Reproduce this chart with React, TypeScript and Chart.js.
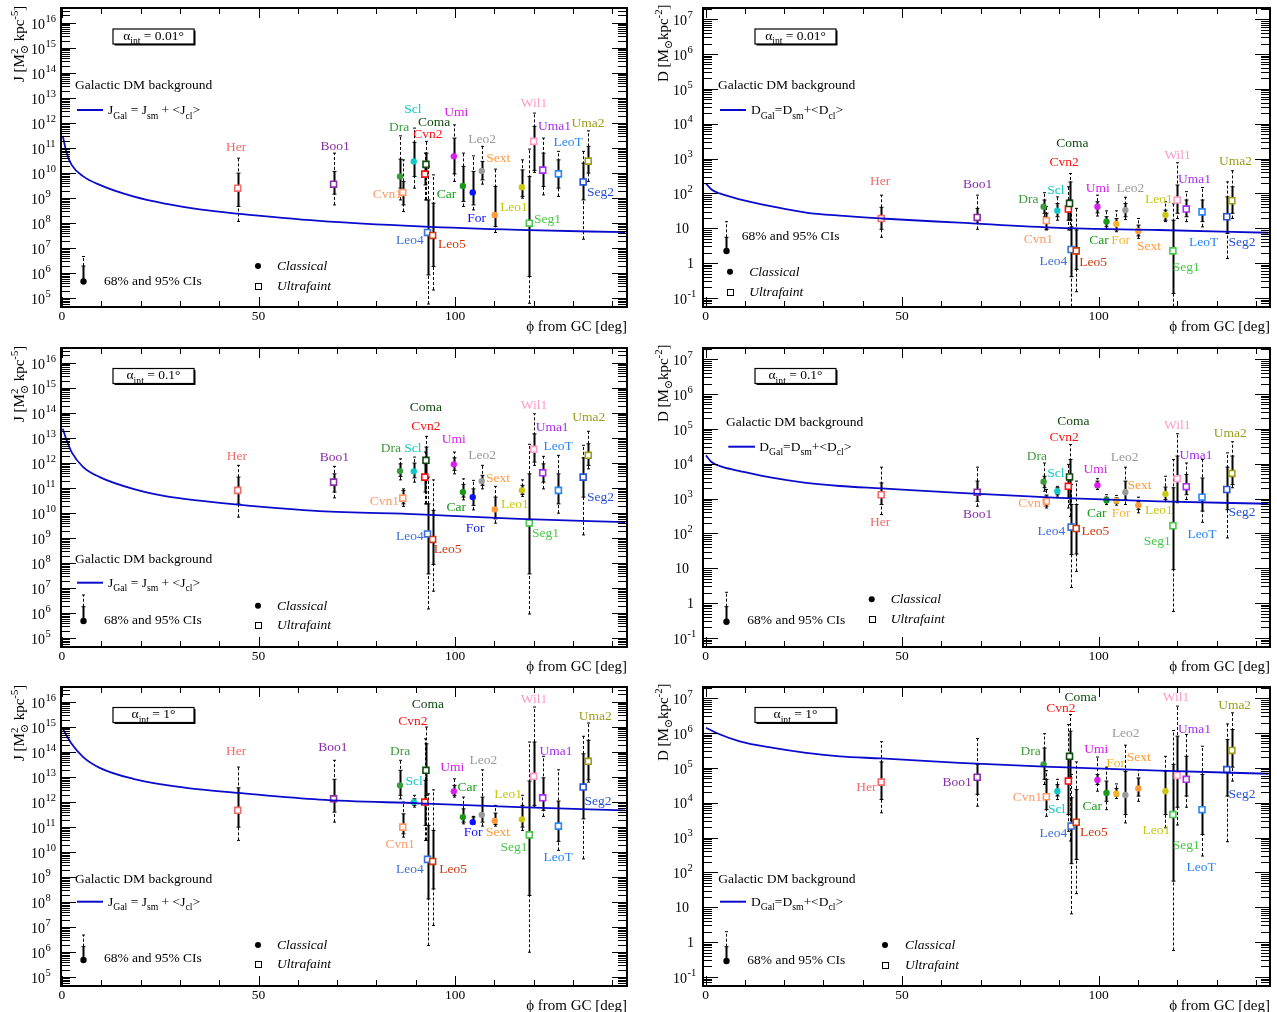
import React, { useEffect, useRef } from 'react';
import { Chart, registerables } from 'chart.js';

Chart.register(...registerables);

if (typeof document !== 'undefined') {
  document.body.style.margin = '0';
  document.body.style.background = '#ffffff';
}

const SERIF = '"Liberation Serif", "DejaVu Serif", serif';

// ---------------- data (values stored as log10) ----------------
const galaxyNames = ['Her', 'Boo1', 'Dra', 'Cvn1', 'Scl', 'Cvn2', 'Coma', 'Leo4', 'Leo5', 'Umi', 'Car', 'For', 'Leo2', 'Sext', 'Leo1', 'Seg1', 'Wil1', 'Uma1', 'LeoT', 'Seg2', 'Uma2'];
const galaxyPhi = [44.7, 69.1, 86.0, 86.7, 89.5, 92.3, 92.6, 93.0, 94.3, 99.7, 102.0, 104.5, 106.8, 110.1, 117.0, 118.9, 120.0, 122.3, 126.3, 132.6, 133.9];
const classicalNames = ['Dra', 'Scl', 'Umi', 'Car', 'For', 'Leo2', 'Sext', 'Leo1'];

const xTickLabels = [0, 50, 100];
const yTicksJ = [5, 6, 7, 8, 9, 10, 11, 12, 13, 14, 15, 16];
const yTicksD = [-1, 0, 1, 2, 3, 4, 5, 6, 7];
const yRangeJ = [4.65, 16.6];
const yRangeD = [-1.26, 7.32];

// J, alpha_int = 0.01 deg
const jC001 = [9.40, 9.56, 9.87, 9.23, 10.47, 9.96, 10.35, 7.63, 7.51, 10.67, 9.49, 9.23, 10.09, 8.33, 9.44, 8.0, 11.27, 10.12, 9.97, 9.65, 10.48];
const j68_001 = [[8.67, 10.0], [9.16, 10.07], [9.4, 10.56], [8.73, 9.67], [9.87, 11.23], [9.53, 10.4], [9.87, 10.8], [5.93, 8.93], [6.27, 8.8], [9.97, 11.4], [8.87, 10.27], [8.73, 10.07], [9.73, 10.47], [7.87, 9.47], [9.07, 10.13], [5.87, 9.87], [10.11, 11.87], [9.47, 10.8], [9.4, 10.53], [8.93, 10.4], [10.0, 11.07]];
const j95_001 = [[8.07, 10.6], [8.73, 10.8], [8.93, 11.49], [8.47, 10.53], [9.4, 11.8], [8.93, 10.8], [8.93, 11.27], [4.77, 10.27], [5.33, 9.93], [9.67, 11.93], [8.67, 10.8], [8.53, 10.69], [9.56, 11.07], [7.63, 10.16], [9.0, 10.53], [4.8, 10.96], [10.03, 12.4], [9.13, 11.4], [9.07, 10.87], [7.36, 10.87], [9.67, 11.69]];
const jLab001 = [[44.3, 11.04], [69.5, 11.07], [85.8, 11.83], [82.8, 9.16], [89.3, 12.53], [93.1, 11.53], [94.7, 12.03], [88.5, 7.31], [99.2, 7.13], [100.3, 12.43], [97.8, 9.13], [105.5, 8.2], [106.9, 11.33], [111.0, 10.57], [115.0, 8.63], [123.5, 8.13], [120.1, 12.77], [125.3, 11.87], [128.8, 11.23], [137.0, 9.23], [133.8, 12.0]];
const jCurvePhi001 = [0.2, 1.2, 2.45, 5.4, 9.6, 18.1, 26.6, 35.0, 44.7, 65.5, 90.9, 116.2, 143.3];
const jCurve001 = [11.49, 10.8, 10.33, 9.87, 9.53, 9.07, 8.77, 8.55, 8.38, 8.09, 7.87, 7.73, 7.64];

// J, alpha_int = 0.1 deg
const jC01 = [10.91, 11.24, 11.68, 10.6, 11.67, 11.44, 12.11, 9.17, 8.95, 11.95, 10.84, 10.64, 11.28, 10.15, 10.91, 9.61, 12.55, 11.61, 10.91, 11.44, 12.31];
const j68_01 = [[10.37, 11.44], [10.84, 11.57], [11.47, 11.97], [10.37, 10.91], [11.41, 12.0], [10.84, 11.97], [11.44, 12.64], [7.57, 10.37], [7.95, 10.11], [11.71, 12.21], [10.64, 11.15], [10.31, 10.97], [11.11, 11.51], [9.77, 10.64], [10.75, 11.11], [7.57, 11.57], [12.04, 13.17], [11.24, 11.97], [10.37, 11.57], [10.64, 12.21], [11.91, 12.77]];
const j95_01 = [[9.84, 11.91], [10.61, 11.87], [11.33, 12.17], [10.27, 10.97], [11.24, 12.24], [10.37, 12.44], [10.37, 13.07], [6.17, 11.44], [6.88, 11.33], [11.57, 12.44], [10.53, 11.37], [10.13, 11.31], [10.97, 11.91], [9.6, 11.07], [10.67, 11.33], [5.97, 12.75], [11.91, 13.97], [10.97, 12.27], [10.0, 12.31], [9.13, 12.71], [11.77, 13.27]];
const jLab01 = [[44.5, 12.27], [69.3, 12.24], [83.7, 12.57], [82.0, 10.48], [89.3, 12.57], [92.6, 13.47], [92.6, 14.24], [88.5, 9.08], [98.1, 8.53], [99.7, 12.93], [100.3, 10.21], [105.1, 9.4], [106.9, 12.31], [110.9, 11.4], [115.2, 10.35], [123.0, 9.17], [120.1, 14.31], [124.7, 13.41], [126.2, 12.67], [137.0, 10.64], [134.0, 13.81]];
const jCurvePhi01 = [0.2, 1.2, 2.45, 5.4, 9.6, 18.1, 26.6, 35.0, 44.7, 65.5, 90.9, 116.2, 143.3];
const jCurve01 = [13.37, 12.91, 12.44, 11.84, 11.44, 10.97, 10.67, 10.5, 10.34, 10.08, 9.95, 9.77, 9.64];

// J, alpha_int = 1 deg
const jC1 = [11.67, 12.13, 12.67, 11.0, 12.0, 12.0, 13.27, 9.71, 9.63, 12.43, 11.4, 11.2, 11.49, 11.25, 11.31, 10.69, 13.03, 12.17, 11.04, 12.6, 13.63];
const j68_1 = [[11.0, 12.57], [11.6, 12.91], [12.27, 13.27], [10.73, 11.53], [11.87, 12.13], [11.07, 12.87], [12.27, 14.33], [8.13, 11.07], [8.53, 10.87], [12.27, 12.67], [11.2, 11.73], [11.13, 11.4], [11.2, 12.2], [11.11, 11.56], [11.0, 11.87], [8.27, 12.84], [11.87, 14.4], [11.67, 12.97], [10.43, 12.04], [11.33, 13.93], [12.89, 14.47]];
const j95_1 = [[10.47, 13.4], [11.2, 13.67], [12.13, 13.67], [10.6, 12.0], [11.8, 12.27], [10.47, 14.53], [10.47, 15.0], [6.27, 12.33], [7.07, 12.49], [12.2, 12.93], [11.13, 12.2], [11.11, 11.43], [11.04, 13.29], [11.04, 11.87], [10.87, 12.27], [6.0, 14.4], [11.8, 15.8], [11.43, 13.83], [10.07, 13.29], [9.73, 14.63], [12.8, 15.16]];
const jLab1 = [[44.3, 14.04], [68.9, 14.17], [86.0, 14.04], [86.0, 10.29], [89.6, 12.84], [89.3, 15.24], [93.1, 15.89], [88.5, 9.29], [99.5, 9.29], [99.3, 13.37], [103.1, 12.57], [104.6, 10.77], [107.2, 13.67], [110.9, 10.77], [113.5, 12.31], [115.0, 10.2], [120.1, 16.1], [125.7, 14.04], [126.2, 9.77], [136.4, 12.04], [135.7, 15.43]];
const jCurvePhi1 = [0.2, 2.45, 5.4, 9.6, 18.1, 26.6, 35.0, 44.7, 65.5, 90.9, 116.2, 143.3];
const jCurve1 = [14.93, 14.33, 13.8, 13.37, 12.93, 12.68, 12.51, 12.37, 12.1, 11.95, 11.8, 11.67];

// D, alpha_int = 0.01 deg
const dC001 = [1.28, 1.31, 1.62, 1.22, 1.5, 1.55, 1.71, 0.39, 0.35, 1.62, 1.19, 1.12, 1.52, 0.92, 1.38, 0.35, 1.81, 1.55, 1.47, 1.33, 1.79];
const d68_001 = [[0.97, 1.6], [1.14, 1.57], [1.43, 1.81], [0.97, 1.43], [1.33, 1.71], [1.23, 1.81], [1.23, 2.33], [-0.39, 1.04], [-0.18, 0.95], [1.44, 1.76], [1.04, 1.33], [0.95, 1.28], [1.33, 1.71], [0.78, 1.09], [1.23, 1.52], [-0.87, 1.23], [1.43, 2.24], [1.33, 1.81], [1.19, 1.81], [0.85, 1.9], [1.43, 2.19]];
const d95_001 = [[0.74, 1.95], [0.97, 1.95], [1.33, 2.02], [0.95, 1.62], [1.23, 1.9], [0.95, 2.19], [0.95, 2.57], [-1.25, 1.81], [-0.82, 1.57], [1.35, 1.95], [0.97, 1.5], [0.9, 1.5], [1.25, 1.89], [0.71, 1.28], [1.19, 1.76], [-1.25, 1.7], [1.28, 2.88], [1.19, 2.05], [1.04, 2.17], [0.13, 2.33], [1.28, 2.65]];
const dLab001 = [[44.4, 2.33], [69.2, 2.27], [82.1, 1.84], [84.7, 0.68], [89.1, 2.08], [91.2, 2.89], [93.3, 3.42], [88.5, 0.04], [98.6, 0.02], [99.8, 2.14], [100.1, 0.64], [105.6, 0.64], [108.1, 2.14], [112.8, 0.47], [115.3, 1.84], [122.3, -0.12], [120.1, 3.1], [124.4, 2.41], [126.7, 0.59], [136.5, 0.59], [134.8, 2.91]];
const dCurvePhi001 = [0.1, 1.5, 3.6, 8.7, 17.2, 25.6, 34.1, 44.7, 64.5, 89.9, 115.3, 143.2];
const dCurve001 = [2.29, 2.11, 2.0, 1.83, 1.62, 1.45, 1.36, 1.28, 1.16, 1.01, 0.95, 0.87];

// D, alpha_int = 0.1 deg
const dC01 = [3.11, 3.18, 3.48, 2.92, 3.21, 3.35, 3.62, 2.18, 2.14, 3.38, 2.95, 2.94, 3.18, 2.81, 3.13, 2.22, 3.57, 3.34, 3.04, 3.26, 3.72];
const d68_01 = [[2.83, 3.45], [2.92, 3.5], [3.31, 3.64], [2.78, 3.1], [3.11, 3.31], [3.02, 3.69], [2.83, 4.12], [1.39, 2.83], [1.41, 2.83], [3.31, 3.5], [2.88, 3.04], [2.86, 3.02], [2.97, 3.5], [2.68, 2.92], [2.97, 3.33], [0.96, 3.31], [2.92, 4.22], [3.11, 3.69], [2.64, 3.59], [2.68, 3.9], [3.4, 4.22]];
const d95_01 = [[2.54, 3.9], [2.78, 3.9], [3.21, 4.02], [2.73, 3.26], [3.07, 3.35], [2.73, 3.98], [2.49, 4.55], [0.45, 3.4], [0.91, 3.5], [3.26, 3.57], [2.83, 3.11], [2.81, 3.09], [2.83, 3.9], [2.59, 3.04], [2.92, 3.64], [-0.24, 4.12], [2.88, 4.86], [2.97, 4.02], [2.32, 4.12], [1.87, 4.31], [3.31, 4.63]];
const dLab01 = [[44.4, 2.3], [69.2, 2.54], [84.3, 4.2], [83.3, 2.86], [89.1, 3.72], [91.2, 4.74], [93.6, 5.2], [88.0, 2.06], [99.2, 2.06], [99.2, 3.83], [99.5, 2.56], [105.7, 2.56], [106.6, 4.17], [110.4, 3.37], [115.3, 2.66], [114.9, 1.77], [120.0, 5.1], [124.8, 4.24], [126.3, 1.98], [136.5, 2.61], [133.5, 4.86]];
const dCurvePhi01 = [0.1, 1.5, 4.5, 8.7, 17.2, 25.6, 34.1, 44.7, 64.5, 89.9, 115.3, 143.2];
const dCurve01 = [4.24, 4.05, 3.9, 3.79, 3.59, 3.45, 3.36, 3.29, 3.16, 3.02, 2.92, 2.85];

// D, alpha_int = 1 deg
const dC1 = [4.59, 4.73, 5.1, 4.17, 4.33, 4.62, 5.33, 3.33, 3.44, 4.65, 4.28, 4.26, 4.22, 4.41, 4.33, 3.66, 4.78, 4.67, 3.8, 4.95, 5.5];
const d68_1 = [[4.09, 5.17], [4.24, 5.1], [4.67, 5.57], [3.8, 4.67], [4.19, 4.52], [3.66, 5.33], [4.71, 6.05], [2.25, 4.14], [2.37, 4.38], [4.52, 4.81], [4.04, 4.62], [4.19, 4.41], [3.66, 4.9], [4.19, 4.71], [3.66, 4.9], [1.75, 5.1], [3.87, 5.91], [4.19, 5.33], [3.09, 4.81], [4.19, 5.81], [5.02, 6.1]];
const d95_1 = [[3.71, 5.75], [3.9, 5.84], [4.52, 5.98], [3.61, 4.92], [4.09, 4.67], [3.18, 6.24], [2.9, 6.53], [0.81, 4.81], [1.39, 5.17], [4.33, 5.31], [3.8, 5.02], [4.12, 4.54], [3.42, 5.65], [4.04, 4.95], [3.28, 5.33], [-0.24, 6.07], [3.36, 6.77], [3.87, 5.96], [2.47, 5.62], [2.88, 6.26], [4.62, 6.58]];
const dLab1 = [[40.9, 4.45], [64.0, 4.59], [82.7, 5.46], [81.9, 4.16], [89.3, 3.82], [90.4, 6.7], [95.4, 7.03], [88.5, 3.12], [98.8, 3.16], [99.4, 5.54], [98.4, 3.88], [104.3, 5.14], [106.9, 5.98], [110.2, 5.29], [114.7, 3.2], [122.3, 2.77], [119.7, 7.01], [124.4, 6.1], [126.1, 2.13], [136.5, 4.25], [134.6, 6.8]];
const dCurvePhi1 = [0.1, 2.8, 8.7, 17.2, 25.6, 34.1, 44.7, 64.5, 89.9, 115.3, 143.2];
const dCurve1 = [6.15, 6.0, 5.76, 5.57, 5.43, 5.33, 5.27, 5.14, 5.02, 4.92, 4.83];

// ---------------- styles ----------------
const galaxyColors: Record<string, string> = {
  Her: '#f26b6b', Boo1: '#8a2fa8', Dra: '#3c9c3c', Cvn1: '#ff9966', Scl: '#10c8c8', Cvn2: '#ff1010',
  Coma: '#104a10', Leo4: '#3f70d8', Leo5: '#cc3a10', Umi: '#d81ef0', Car: '#189a18', For: '#1010ff',
  Leo2: '#9a9a9a', Sext: '#ff9a3a', Leo1: '#c8c810', Seg1: '#48c848', Wil1: '#ff9ac8', Uma1: '#a82ef0',
  LeoT: '#2a86f5', Seg2: '#2650d8', Uma2: '#9c9c1c',
};
const forColorD = '#f5b52a';
const curveColor = '#0a0acc';

type Seg = { t: string; k?: 'sub' | 'sup'; top?: string };

const COLS = [
  { left: 0, width: 640, padL: 61, padR: 13, xMin: -0.25, xMax: 143.75 },
  { left: 640, width: 637, padL: 63, padR: 7, xMin: -0.65, xMax: 143.6 },
];
const ROWS = [
  { top: 0, height: 340 },
  { top: 340, height: 339 },
  { top: 679, height: 333 },
];

interface Deco {
  box: number[]; gal: number[]; line: number[]; legX: number; ci: number[]; cls: number[];
}
interface PanelSpec {
  id: string; col: number; row: number; kind: 'J' | 'D'; alpha: string;
  central: number[]; ci68: number[][]; ci95: number[][]; labels: number[][];
  curvePhi: number[]; curve: number[]; deco: Deco;
}

const panels: PanelSpec[] = [
  { id: 'TL', col: 0, row: 0, kind: 'J', alpha: ' = 0.01°', central: jC001, ci68: j68_001, ci95: j95_001, labels: jLab001, curvePhi: jCurvePhi001, curve: jCurve001,
    deco: { box: [113, 29], gal: [75, 85], line: [77, 103, 110], legX: 108, ci: [83, 281.5, 266, 256.5, 104, 281], cls: [258, 266, 286, 277] } },
  { id: 'TR', col: 1, row: 0, kind: 'D', alpha: ' = 0.01°', central: dC001, ci68: d68_001, ci95: d95_001, labels: dLab001, curvePhi: dCurvePhi001, curve: dCurve001,
    deco: { box: [115, 29], gal: [78, 85], line: [80, 106, 110], legX: 111, ci: [86, 251, 237.3, 221.7, 101.7, 236], cls: [90, 271.7, 292.3, 109.3] } },
  { id: 'ML', col: 0, row: 1, kind: 'J', alpha: ' = 0.1°', central: jC01, ci68: j68_01, ci95: j95_01, labels: jLab01, curvePhi: jCurvePhi01, curve: jCurve01,
    deco: { box: [113, 28.5], gal: [75, 219], line: [77, 103, 242.7], legX: 108, ci: [83, 281, 266.7, 255, 104, 280], cls: [258, 265.7, 285, 277] } },
  { id: 'MR', col: 1, row: 1, kind: 'D', alpha: ' = 0.1°', central: dC01, ci68: d68_01, ci95: d95_01, labels: dLab01, curvePhi: dCurvePhi01, curve: dCurve01,
    deco: { box: [115, 28.5], gal: [86, 81.7], line: [88.3, 115, 106.7], legX: 119.3, ci: [86, 281.7, 266.7, 252.3, 107.3, 280], cls: [231.7, 259.3, 279.3, 250.7] } },
  { id: 'BL', col: 0, row: 2, kind: 'J', alpha: ' = 1°', central: jC1, ci68: j68_1, ci95: j95_1, labels: jLab1, curvePhi: jCurvePhi1, curve: jCurve1,
    deco: { box: [113, 28.5], gal: [75, 199.3], line: [77, 103, 222.7], legX: 108, ci: [83, 281, 267.7, 256, 104, 279], cls: [258, 266, 285.3, 277] } },
  { id: 'BR', col: 1, row: 2, kind: 'D', alpha: ' = 1°', central: dC1, ci68: d68_1, ci95: d95_1, labels: dLab1, curvePhi: dCurvePhi1, curve: dCurve1,
    deco: { box: [115, 28.5], gal: [78.3, 199.3], line: [80, 106, 222.7], legX: 111, ci: [86, 282, 267.7, 252.7, 107.3, 280.3], cls: [245, 266, 286, 265] } },
];

// ---------------- drawing helpers ----------------
function font(size: number, style = '') {
  return `${style ? style + ' ' : ''}${size}px ${SERIF}`;
}

function measureRich(ctx: CanvasRenderingContext2D, segs: Seg[], size: number) {
  let w = 0;
  for (const s of segs) {
    if (!s.k) {
      ctx.font = font(size);
      w += ctx.measureText(s.t).width;
    } else {
      ctx.font = font(size * 0.72);
      let ww = ctx.measureText(s.t).width;
      if (s.top) ww = Math.max(ww, ctx.measureText(s.top).width);
      w += ww;
    }
  }
  return w;
}

// y is the vertical middle of the main text
function drawRich(ctx: CanvasRenderingContext2D, segs: Seg[], x: number, y: number, size: number, align: string) {
  const w = measureRich(ctx, segs, size);
  let cx = align === 'center' ? x - w / 2 : align === 'right' ? x - w : x;
  const base = y + size * 0.33;
  ctx.textAlign = 'left';
  ctx.textBaseline = 'alphabetic';
  for (const s of segs) {
    if (!s.k) {
      ctx.font = font(size);
      ctx.fillText(s.t, cx, base);
      cx += ctx.measureText(s.t).width;
    } else {
      ctx.font = font(size * 0.72);
      let ww = ctx.measureText(s.t).width;
      if (s.k === 'sub') ctx.fillText(s.t, cx, base + size * 0.3);
      else ctx.fillText(s.t, cx, base - size * 0.42);
      if (s.top) {
        ctx.fillText(s.top, cx, base - size * 0.42);
        ww = Math.max(ww, ctx.measureText(s.top).width);
      }
      cx += ww;
    }
  }
}

function seg(ctx: CanvasRenderingContext2D, x1: number, y1: number, x2: number, y2: number) {
  ctx.beginPath();
  ctx.moveTo(x1, y1);
  ctx.lineTo(x2, y2);
  ctx.stroke();
}

function colorFor(name: string, kind: string) {
  if (name === 'For' && kind === 'D') return forColorD;
  return galaxyColors[name];
}

function makePlugin(spec: PanelSpec) {
  return {
    id: 'deco' + spec.id,
    beforeDatasetsDraw(chart: any) {
      const ctx: CanvasRenderingContext2D = chart.ctx;
      const ca = chart.chartArea;
      const xs = chart.scales.x;
      const ys = chart.scales.y;
      ctx.save();
      ctx.beginPath();
      ctx.rect(ca.left, ca.top, ca.right - ca.left, ca.bottom - ca.top);
      ctx.clip();
      ctx.strokeStyle = '#000';
      spec.ci95.forEach((p, i) => {
        const x = Math.round(xs.getPixelForValue(galaxyPhi[i])) + 0.5;
        const yl = ys.getPixelForValue(Math.pow(10, p[0]));
        const yh = ys.getPixelForValue(Math.pow(10, p[1]));
        ctx.lineWidth = 1;
        ctx.setLineDash([3, 2]);
        seg(ctx, x, yl, x, yh);
        ctx.setLineDash([]);
        seg(ctx, x - 1.5, yl, x + 1.5, yl);
        seg(ctx, x - 1.5, yh, x + 1.5, yh);
      });
      spec.ci68.forEach((p, i) => {
        const x = Math.round(xs.getPixelForValue(galaxyPhi[i])) + 0.5;
        const yl = ys.getPixelForValue(Math.pow(10, p[0]));
        const yh = ys.getPixelForValue(Math.pow(10, p[1]));
        ctx.lineWidth = 2;
        seg(ctx, x, yl, x, yh);
        ctx.lineWidth = 1;
        seg(ctx, x - 2, yl, x + 2, yl);
        seg(ctx, x - 2, yh, x + 2, yh);
      });
      ctx.restore();
    },
    afterDatasetsDraw(chart: any) {
      const ctx: CanvasRenderingContext2D = chart.ctx;
      const ca = chart.chartArea;
      const xs = chart.scales.x;
      const ys = chart.scales.y;
      const isJ = spec.kind === 'J';
      const range = isJ ? yRangeJ : yRangeD;
      const d = spec.deco;
      ctx.save();

      // galaxy labels
      spec.labels.forEach((p, i) => {
        const name = galaxyNames[i];
        ctx.fillStyle = colorFor(name, spec.kind);
        ctx.font = font(13.5);
        ctx.textAlign = 'center';
        ctx.textBaseline = 'middle';
        ctx.fillText(name, xs.getPixelForValue(p[0]), ys.getPixelForValue(Math.pow(10, p[1])));
      });

      // ticks
      ctx.strokeStyle = '#000';
      ctx.lineWidth = 1;
      const majorLen = 15;
      const minorLen = 9;
      for (let e = Math.floor(range[0]); e <= Math.ceil(range[1]); e++) {
        for (let m = 1; m <= 9; m++) {
          const lv = e + Math.log10(m);
          if (lv <= range[0] || lv >= range[1]) continue;
          const py = Math.round(ys.getPixelForValue(m * Math.pow(10, e))) + 0.5;
          const len = m === 1 ? majorLen : minorLen;
          seg(ctx, ca.left, py, ca.left + len, py);
          seg(ctx, ca.right, py, ca.right - len, py);
        }
      }
      for (let v = 0; v <= 140; v += 10) {
        const px = Math.round(xs.getPixelForValue(v)) + 0.5;
        const len = v % 50 === 0 ? 10 : 6;
        seg(ctx, px, ca.bottom, px, ca.bottom - len);
        seg(ctx, px, ca.top, px, ca.top + len);
      }

      // frame
      ctx.lineWidth = 2;
      ctx.strokeRect(ca.left, ca.top, ca.right - ca.left, ca.bottom - ca.top);

      // y tick labels
      ctx.fillStyle = '#000';
      const ticks = isJ ? yTicksJ : yTicksD;
      ticks.forEach((e) => {
        const py = ys.getPixelForValue(Math.pow(10, e));
        ctx.textBaseline = 'middle';
        if (!isJ && e === 0) {
          ctx.font = font(14);
          ctx.textAlign = 'right';
          ctx.fillText('1', ca.left - 9, py + 1);
        } else if (!isJ && e === 1) {
          ctx.font = font(14);
          ctx.textAlign = 'right';
          ctx.fillText('10', ca.left - 14, py + 1);
        } else {
          ctx.font = font(14);
          ctx.textAlign = 'right';
          ctx.fillText('10', ca.left - 16, py + 2);
          ctx.font = font(10.5);
          ctx.textAlign = 'left';
          ctx.fillText(String(e), ca.left - 15.5, py - 4);
        }
      });

      // x tick labels
      xTickLabels.forEach((v) => {
        ctx.font = font(13.5);
        ctx.textAlign = 'center';
        ctx.textBaseline = 'middle';
        ctx.fillText(String(v), xs.getPixelForValue(v), ca.bottom + 9.5);
      });

      // x title
      drawRich(ctx, [{ t: 'ϕ from GC [deg]' }], ca.right, ca.bottom + 19, 15, 'right');

      // y title (rotated)
      ctx.save();
      ctx.translate(isJ ? 24 : 28, ca.top + 74);
      ctx.rotate(-Math.PI / 2);
      const ySegs: Seg[] = isJ
        ? [{ t: 'J [M' }, { t: '⊙', k: 'sub', top: '2' }, { t: ' kpc' }, { t: '-5', k: 'sup' }, { t: ']' }]
        : [{ t: 'D [M' }, { t: '⊙', k: 'sub' }, { t: 'kpc' }, { t: '-2', k: 'sup' }, { t: ']' }];
      drawRich(ctx, ySegs, 0, -5, 15, 'left');
      ctx.restore();

      // alpha box
      const bw = 81;
      const bh = 15;
      ctx.fillStyle = '#000';
      ctx.fillRect(d.box[0] + 1.5, d.box[1] + 1.5, bw, bh);
      ctx.fillStyle = '#fff';
      ctx.fillRect(d.box[0], d.box[1], bw, bh);
      ctx.lineWidth = 1.2;
      ctx.strokeStyle = '#000';
      ctx.strokeRect(d.box[0], d.box[1], bw, bh);
      ctx.fillStyle = '#000';
      drawRich(ctx, [{ t: 'α' }, { t: 'int', k: 'sub' }, { t: spec.alpha }], d.box[0] + bw / 2, d.box[1] + bh / 2 - 1, 13.5, 'center');

      // galactic background legend
      drawRich(ctx, [{ t: 'Galactic DM background' }], d.gal[0], d.gal[1], 13.5, 'left');
      ctx.strokeStyle = curveColor;
      ctx.lineWidth = 2;
      seg(ctx, d.line[0], d.line[2], d.line[1], d.line[2]);
      const legSegs: Seg[] = isJ
        ? [{ t: 'J' }, { t: 'Gal', k: 'sub' }, { t: ' = J' }, { t: 'sm', k: 'sub' }, { t: ' + <J' }, { t: 'cl', k: 'sub' }, { t: '>' }]
        : [{ t: 'D' }, { t: 'Gal', k: 'sub' }, { t: '=D' }, { t: 'sm', k: 'sub' }, { t: '+<D' }, { t: 'cl', k: 'sub' }, { t: '>' }];
      drawRich(ctx, legSegs, d.legX, d.line[2], 13.5, 'left');

      // CI legend
      const [cx, yDot, ySolid, yDash, tx, ty] = d.ci;
      ctx.strokeStyle = '#000';
      ctx.lineWidth = 1;
      ctx.setLineDash([3, 2]);
      seg(ctx, cx + 0.5, ySolid, cx + 0.5, yDash);
      ctx.setLineDash([]);
      seg(ctx, cx - 1, yDash, cx + 2, yDash);
      ctx.lineWidth = 2;
      seg(ctx, cx + 0.5, yDot, cx + 0.5, ySolid);
      ctx.lineWidth = 1;
      seg(ctx, cx - 1.5, ySolid, cx + 2.5, ySolid);
      ctx.fillStyle = '#000';
      ctx.beginPath();
      ctx.arc(cx + 0.5, yDot, 3.2, 0, Math.PI * 2);
      ctx.fill();
      drawRich(ctx, [{ t: '68% and 95% CIs' }], tx, ty, 13.5, 'left');

      // classical / ultrafaint legend
      const [lx, ly1, ly2, ltx] = d.cls;
      ctx.beginPath();
      ctx.arc(lx, ly1, 3, 0, Math.PI * 2);
      ctx.fill();
      ctx.lineWidth = 1;
      ctx.strokeRect(Math.round(lx - 3) + 0.5, Math.round(ly2 - 3) + 0.5, 6, 6);
      ctx.font = font(13.5, 'italic');
      ctx.textAlign = 'left';
      ctx.textBaseline = 'middle';
      ctx.fillText('Classical', ltx, ly1 + 0.5);
      ctx.fillText('Ultrafaint', ltx, ly2 + 0.5);

      ctx.restore();
    },
  };
}

function buildConfig(spec: PanelSpec) {
  const colSpec = COLS[spec.col];
  const rowSpec = ROWS[spec.row];
  const range = spec.kind === 'J' ? yRangeJ : yRangeD;
  const curvePts = spec.curvePhi.map((p, i) => ({ x: p, y: Math.pow(10, spec.curve[i]) }));
  const clsIdx = galaxyNames.map((n, i) => i).filter((i) => classicalNames.includes(galaxyNames[i]));
  const ufIdx = galaxyNames.map((n, i) => i).filter((i) => !classicalNames.includes(galaxyNames[i]));
  const pts = (idx: number[]) => idx.map((i) => ({ x: galaxyPhi[i], y: Math.pow(10, spec.central[i]) }));
  const cols = (idx: number[]) => idx.map((i) => colorFor(galaxyNames[i], spec.kind));
  return {
    type: 'scatter',
    data: {
      datasets: [
        {
          data: curvePts, showLine: true, borderColor: curveColor, borderWidth: 1.8,
          pointRadius: 0, cubicInterpolationMode: 'monotone', fill: false,
        },
        {
          data: pts(clsIdx), pointStyle: 'circle', pointRadius: 3.2,
          pointBackgroundColor: cols(clsIdx), pointBorderColor: cols(clsIdx), pointBorderWidth: 0,
        },
        {
          data: pts(ufIdx), pointStyle: 'rect', pointRadius: 4.2,
          pointBackgroundColor: '#ffffff', pointBorderColor: cols(ufIdx), pointBorderWidth: 1.6,
        },
      ],
    },
    options: {
      animation: false,
      responsive: false,
      devicePixelRatio: 1,
      events: [],
      layout: {
        padding: { left: colSpec.padL, right: colSpec.padR, top: 8, bottom: rowSpec.height - 307 },
      },
      scales: {
        x: { type: 'linear', min: colSpec.xMin, max: colSpec.xMax, display: false },
        y: { type: 'logarithmic', min: Math.pow(10, range[0]), max: Math.pow(10, range[1]), display: false },
      },
      plugins: { legend: { display: false }, tooltip: { enabled: false } },
    },
    plugins: [makePlugin(spec)],
  };
}

function PanelChart({ spec }: { spec: PanelSpec }) {
  const ref = useRef<HTMLCanvasElement>(null);
  const colSpec = COLS[spec.col];
  const rowSpec = ROWS[spec.row];
  useEffect(() => {
    if (!ref.current) return;
    const chart = new Chart(ref.current, buildConfig(spec) as any);
    return () => chart.destroy();
  }, [spec]);
  return (
    <canvas
      ref={ref}
      width={colSpec.width}
      height={rowSpec.height}
      style={{ position: 'absolute', left: colSpec.left, top: rowSpec.top, width: colSpec.width, height: rowSpec.height }}
    />
  );
}

export default function App() {
  useEffect(() => {
    document.body.style.margin = '0';
  }, []);
  return (
    <div style={{ position: 'relative', width: 1277, height: 1012, background: '#ffffff', overflow: 'hidden' }}>
      {panels.map((p) => (
        <PanelChart key={p.id} spec={p} />
      ))}
    </div>
  );
}
